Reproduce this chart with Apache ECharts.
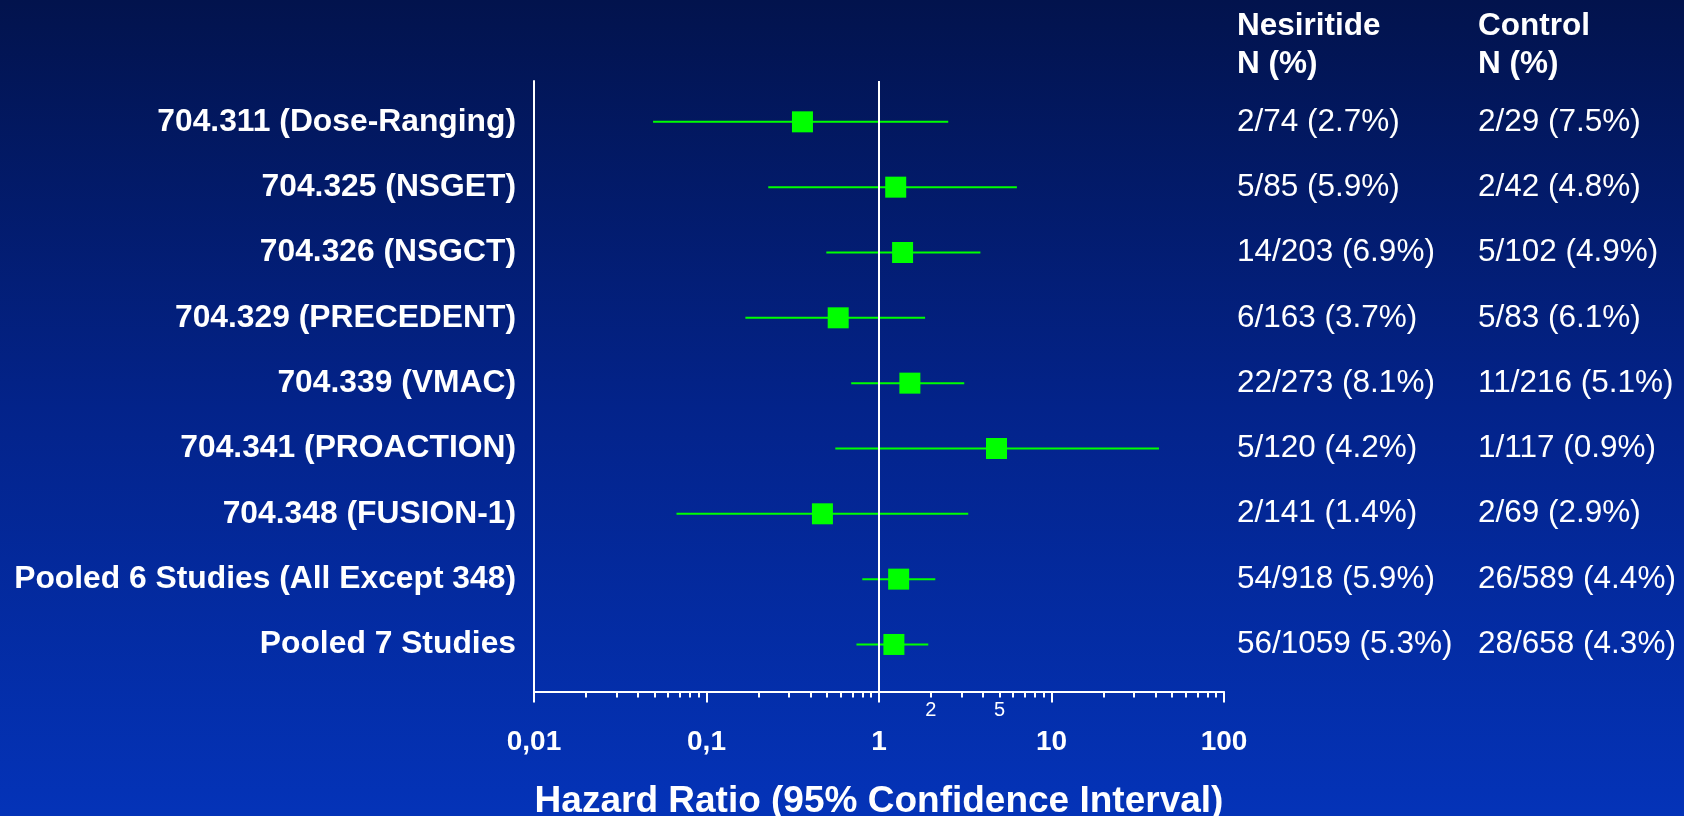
<!DOCTYPE html>
<html>
<head>
<meta charset="utf-8">
<script src="https://cdn.jsdelivr.net/npm/echarts@6/dist/echarts.min.js"></script>
<style>
  html, body { margin: 0; padding: 0; }
  #forestBox { width: 1684px; height: 816px; }
</style>
</head>
<body>
<div id="forestBox"></div>
<script>
// study rows, top to bottom
const studies = [
  '704.311 (Dose-Ranging)',
  '704.325 (NSGET)',
  '704.326 (NSGCT)',
  '704.329 (PRECEDENT)',
  '704.339 (VMAC)',
  '704.341 (PROACTION)',
  '704.348 (FUSION-1)',
  'Pooled 6 Studies (All Except 348)',
  'Pooled 7 Studies'
];
// hazard ratio and 95% CI
const hazardRatio = [0.36, 1.25, 1.37, 0.58, 1.51, 4.8, 0.47, 1.30, 1.22];
const ciLower     = [0.049, 0.228, 0.495, 0.168, 0.69, 0.558, 0.067, 0.80, 0.74];
const ciUpper     = [2.52, 6.3, 3.87, 1.85, 3.12, 42, 3.29, 2.12, 1.93];

const nesiritideN = ['2/74 (2.7%)', '5/85 (5.9%)', '14/203 (6.9%)', '6/163 (3.7%)', '22/273 (8.1%)',
  '5/120 (4.2%)', '2/141 (1.4%)', '54/918 (5.9%)', '56/1059 (5.3%)'];
const controlN = ['2/29 (7.5%)', '2/42 (4.8%)', '5/102 (4.9%)', '5/83 (6.1%)', '11/216 (5.1%)',
  '1/117 (0.9%)', '2/69 (2.9%)', '26/589 (4.4%)', '28/658 (4.3%)'];

// x axis ticks (hazard ratio scale)
const majorTicks = [0.01, 0.1, 1, 10, 100];
const majorTickLabels = ['0,01', '0,1', '1', '10', '100'];
const minorTicks = [0.02, 0.03, 0.04, 0.05, 0.06, 0.07, 0.08, 0.09,
  0.2, 0.3, 0.4, 0.5, 0.6, 0.7, 0.8, 0.9,
  2, 3, 4, 5, 6, 7, 8, 9,
  20, 30, 40, 50, 60, 70, 80, 90];
const smallTickLabels = [2, 5];

const FONT = 'Liberation Sans, Arial, sans-serif';
const GREEN = '#00ff00';
const lg = v => Math.log10(v);
const rows = studies.map((s, i) => i);

const findLabel = (v, vals, labels) => {
  const k = vals.findIndex(t => Math.abs(lg(t) - v) < 1e-6);
  return k < 0 ? '' : String(labels[k]);
};

const yBase = {
  type: 'value',
  inverse: true,
  min: -0.625,
  max: 8.72,
  splitLine: { show: false },
  axisTick: { show: false }
};

const option = {
  backgroundColor: new echarts.graphic.LinearGradient(0, 0, 0, 1, [
    { offset: 0, color: '#02134d' },
    { offset: 0.5, color: '#03238a' },
    { offset: 1, color: '#0433b8' }
  ]),
  animation: false,
  grid: { left: 534, right: 460, top: 81, bottom: 124.5, outerBoundsMode: 'none', containLabel: false },
  graphic: [
    {
      type: 'text', left: 1237, top: 7,
      style: { text: 'Nesiritide\nN (%)', fill: '#fff', font: 'bold 31.5px ' + FONT, lineHeight: 38 }
    },
    {
      type: 'text', left: 1478, top: 7,
      style: { text: 'Control\nN (%)', fill: '#fff', font: 'bold 31.5px ' + FONT, lineHeight: 38 }
    }
  ],
  xAxis: [
    {
      type: 'value',
      position: 'bottom',
      min: lg(0.01),
      max: lg(100),
      name: 'Hazard Ratio (95% Confidence Interval)',
      nameLocation: 'middle',
      nameGap: 90,
      nameTextStyle: { color: '#fff', fontFamily: FONT, fontWeight: 'bold', fontSize: 37, lineHeight: 40 },
      axisLine: { show: true, onZero: false, lineStyle: { color: '#fff', width: 2 } },
      axisTick: {
        show: true, length: 11, inside: false,
        lineStyle: { color: '#fff', width: 2 },
        customValues: majorTicks.map(lg)
      },
      axisLabel: {
        color: '#fff', fontFamily: FONT, fontWeight: 'bold', fontSize: 28, lineHeight: 28,
        margin: 37,
        customValues: majorTicks.map(lg),
        formatter: v => findLabel(v, majorTicks, majorTickLabels)
      },
      splitLine: { show: false }
    },
    {
      type: 'value',
      position: 'bottom',
      min: lg(0.01),
      max: lg(100),
      axisLine: { show: false, onZero: false },
      axisTick: {
        show: true, length: 6,
        lineStyle: { color: '#fff', width: 2 },
        customValues: minorTicks.map(lg)
      },
      axisLabel: {
        color: '#fff', fontFamily: FONT, fontSize: 20, lineHeight: 20,
        margin: 9,
        customValues: smallTickLabels.map(lg),
        formatter: v => findLabel(v, smallTickLabels, smallTickLabels)
      },
      splitLine: { show: false }
    }
  ],
  yAxis: [
    Object.assign({}, yBase, {
      position: 'left',
      axisLine: { show: true, onZero: false, lineStyle: { color: '#fff', width: 2 } },
      axisLabel: {
        color: '#fff', fontFamily: FONT, fontWeight: 'bold', fontSize: 31.8,
        margin: 18,
        customValues: rows,
        formatter: v => studies[Math.round(v)]
      }
    }),
    Object.assign({}, yBase, {
      position: 'right',
      axisLine: { show: false, onZero: false },
      axisLabel: {
        color: '#fff', fontFamily: FONT, fontSize: 31.5,
        margin: 13,
        customValues: rows,
        formatter: v => nesiritideN[Math.round(v)]
      }
    }),
    Object.assign({}, yBase, {
      position: 'right',
      offset: 241,
      axisLine: { show: false, onZero: false },
      axisLabel: {
        color: '#fff', fontFamily: FONT, fontSize: 31.5,
        margin: 13,
        customValues: rows,
        formatter: v => controlN[Math.round(v)]
      }
    })
  ],
  series: [
    {
      name: 'CI',
      type: 'custom',
      xAxisIndex: 0,
      yAxisIndex: 0,
      z: 2,
      encode: { x: [0, 1], y: 2 },
      data: rows.map(i => [lg(ciLower[i]), lg(ciUpper[i]), i]),
      renderItem: (params, api) => {
        const p1 = api.coord([api.value(0), api.value(2)]);
        const p2 = api.coord([api.value(1), api.value(2)]);
        return {
          type: 'line',
          shape: { x1: p1[0], y1: p1[1], x2: p2[0], y2: p2[1] },
          style: { stroke: GREEN, lineWidth: 2 }
        };
      }
    },
    {
      name: 'HR',
      type: 'scatter',
      xAxisIndex: 0,
      yAxisIndex: 0,
      z: 3,
      symbol: 'rect',
      symbolSize: 21,
      itemStyle: { color: GREEN, opacity: 1 },
      data: rows.map(i => [lg(hazardRatio[i]), i]),
      markLine: {
        silent: true,
        symbol: 'none',
        label: { show: false },
        lineStyle: { color: '#fff', width: 2, type: 'solid' },
        data: [{ xAxis: lg(1) }]
      }
    }
  ]
};

const myChart = echarts.init(document.getElementById('forestBox'));
myChart.setOption(option);
</script>
</body>
</html>
